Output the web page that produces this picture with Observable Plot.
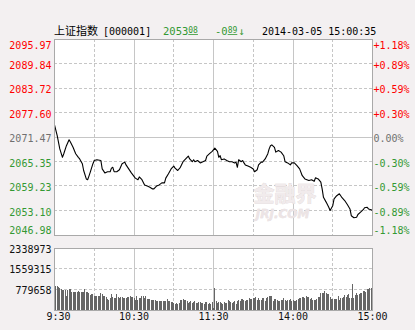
<!DOCTYPE html>
<html><head><meta charset="utf-8">
<script src="https://cdn.jsdelivr.net/npm/d3@7"></script>
<script src="https://cdn.jsdelivr.net/npm/@observablehq/plot@0.6"></script>
<style>
html,body{margin:0;padding:0;background:#f3f0f1;}
#wrap{position:relative;width:415px;height:330px;overflow:hidden;background:#f3f0f1;}
#wrap > svg{position:absolute;left:0;}
</style></head><body><div id="wrap"></div>
<script>
// ---- data ----
const indexName = "上证指数";
const indexCode = "[000001]";
const lastInt = "2053", lastDec = "08";
const chgInt = "-0", chgDec = "89", chgArrow = "↓";
const stamp = "2014-03-05 15:00:35";

const prevClose = 2071.47;
const priceTicks = [2095.97, 2089.84, 2083.72, 2077.60, 2071.47, 2065.35, 2059.23, 2053.10, 2046.98];
const pctLabels = ["+1.18%", "+0.89%", "+0.59%", "+0.30%", "0.00%", "-0.30%", "-0.59%", "-0.89%", "-1.18%"];
const volTicks = [779658, 1559315, 2338973];
const timeTicks = [0, 60, 120, 180, 240];
const timeLabels = ["9:30", "10:30", "11:30", "14:00", "15:00"];

// trading minute since 9:30 (120 = 11:30 / 13:00)
const minutes = [0,2,4,6,7,9,11,12,14,16,18,19,21,22,24,25,26,27,29,30,32,35,36,38,40,42,43,44,45,47,49,51,53,54,56,58,61,63,64,66,68,70,72,74,75,77,79,81,83,84,86,88,90,91,93,95,97,99,101,102,104,105,106,108,110,112,114,115,117,119,121,123,124,125,126,128,130,132,134,136,137,138,139,141,142,143,144,146,148,150,151,153,154,156,157,159,161,162,163,164,166,167,169,171,173,174,176,178,179,181,183,185,187,189,192,194,196,197,199,201,202,203,205,207,208,210,211,213,215,216,217,219,221,223,224,226,228,229,231,233,234,236,237,239,240];
const prices = [2074.5,2071.9,2068.5,2066.4,2067.3,2069.3,2070.8,2070.2,2068.9,2067.3,2066.4,2066.0,2064.8,2063.1,2061.0,2060.8,2061.7,2062.7,2064.8,2065.6,2065.8,2065.6,2063.5,2062.5,2062.8,2062.8,2063.7,2063.9,2062.8,2062.8,2063.3,2064.8,2065.2,2064.5,2063.5,2062.5,2061.2,2060.8,2061.5,2060.8,2059.5,2059.2,2058.9,2058.5,2058.5,2059.2,2059.5,2060.0,2060.0,2061.2,2062.3,2063.5,2064.2,2063.7,2063.1,2063.9,2065.3,2066.0,2066.7,2066.0,2065.3,2065.8,2065.3,2065.6,2065.0,2065.3,2065.6,2066.7,2067.3,2067.9,2068.7,2067.9,2066.4,2066.8,2065.8,2066.0,2065.6,2065.3,2065.3,2065.0,2065.2,2063.9,2065.8,2065.3,2065.6,2065.0,2064.5,2064.2,2063.9,2063.5,2062.8,2063.3,2064.5,2065.2,2065.2,2066.0,2067.3,2068.5,2069.3,2069.5,2068.9,2067.7,2068.1,2067.7,2066.8,2065.3,2065.0,2064.5,2065.0,2065.0,2064.3,2063.5,2061.8,2061.0,2060.6,2060.8,2060.4,2061.3,2061.0,2060.2,2058.5,2056.4,2055.2,2053.9,2053.1,2054.3,2056.0,2056.8,2057.3,2056.8,2056.3,2055.6,2054.6,2053.5,2051.8,2051.3,2051.4,2052.1,2052.7,2053.3,2053.8,2053.9,2053.5,2053.3,2053.08];
// volume per minute, thousands of shares (minute 0..240)
const volumesK = [
2338.973,905,880,843,805,780,742,742,717,503,
742,780,780,654,654,679,654,654,704,679,
654,679,654,767,654,679,604,553,566,566,
528,503,503,503,503,616,591,503,503,465,
402,365,428,566,465,440,440,566,465,428,
465,465,440,440,428,465,465,503,465,465,
428,365,528,340,428,428,528,503,428,528,
402,402,402,365,340,340,340,302,302,302,
302,314,314,314,314,390,314,314,289,289,
264,226,264,189,264,352,377,390,377,352,
314,264,289,314,264,289,314,264,264,289,
289,264,264,226,289,289,226,264,189,289,
63,817,314,264,289,289,264,226,289,264,
264,352,314,289,264,289,314,226,314,352,
314,390,390,352,314,352,352,415,390,390,
440,440,465,377,415,377,377,415,440,314,
440,478,516,516,503,314,390,390,352,314,
314,352,352,415,352,314,352,352,390,314,
352,314,314,352,390,415,440,478,478,440,
503,478,478,390,415,352,352,352,390,453,
478,604,641,641,692,641,566,566,478,390,
390,390,390,390,503,352,440,415,478,541,
478,541,566,415,415,968,440,541,629,541,
591,616,616,692,704,666,767,767,817,817,163];

// ---- styling ----
const RED = "#ff0000", GREEN = "#339933", GRAYTXT = "#707070";
const GRID = "#c6c6c6", BORDER = "#a9a9a9";
const MONO = "DejaVu Sans Mono";
const halfHours = [30, 90, 150, 210], hours = [60, 120, 180];

const wrap = document.getElementById("wrap");

// ---- header ----
const hdr = d3.select(wrap).append("svg").attr("width", 415).attr("height", 40).style("top", "0px");
hdr.append("text").attr("x", 54).attr("y", 35).attr("font-family", "Noto Sans CJK SC").attr("font-size", 11).attr("fill", "#000").text(indexName);
hdr.append("text").attr("x", 103).attr("y", 35).attr("font-family", MONO).attr("font-size", 10).attr("fill", "#000").text(indexCode);
const t1 = hdr.append("text").attr("x", 163).attr("y", 35).attr("font-family", MONO).attr("font-size", 10.5).attr("fill", GREEN);
t1.append("tspan").text(lastInt);
t1.append("tspan").attr("font-size", 8).attr("dy", -2).attr("text-decoration", "underline").text(lastDec);
const t2 = hdr.append("text").attr("x", 215).attr("y", 35).attr("font-family", MONO).attr("font-size", 10.5).attr("fill", GREEN);
t2.append("tspan").text(chgInt);
t2.append("tspan").attr("font-size", 8).attr("dy", -2).attr("text-decoration", "underline").text(chgDec);
t2.append("tspan").attr("dy", 2).attr("dx", 1).text(chgArrow);
hdr.append("text").attr("x", 262).attr("y", 35).attr("font-family", MONO).attr("font-size", 10).attr("fill", "#000").text(stamp);

// ---- price panel ----
const priceData = minutes.map((m, i) => ({m, p: prices[i]}));
const tickRows = priceTicks.map((v, i) => ({
  v, pct: pctLabels[i],
  c: Math.abs(v - prevClose) < 0.005 ? GRAYTXT : (v > prevClose ? RED : GREEN)
}));
const innerRows = tickRows.slice(1, -1);
const topRow = tickRows.slice(0, 1), botRow = tickRows.slice(-1);
const txt = {fontFamily: MONO, fontSize: 10};
const leftLab = (rows, dy) => Plot.text(rows, {...txt, y: "v", text: d => d.v.toFixed(2), fill: "c", frameAnchor: "left", textAnchor: "end", dx: -3, dy});
const rightLab = (rows, dy) => Plot.text(rows, {...txt, y: "v", text: "pct", fill: "c", frameAnchor: "right", textAnchor: "start", dx: 1, dy});

const price = Plot.plot({
  width: 415, height: 206,
  marginTop: 2.5, marginBottom: 7.5, marginLeft: 54, marginRight: 43,
  style: {background: "transparent", overflow: "visible"},
  x: {domain: [0, 240], axis: null},
  y: {domain: [2046.98, 2095.97], axis: null},
  color: {type: "identity"},
  marks: [
    Plot.frame({fill: "white", stroke: null}),
    Plot.ruleY(innerRows.filter(d => d.v !== prevClose), {y: "v", stroke: GRID, strokeDasharray: "3,2", shapeRendering: "crispEdges"}),
    Plot.ruleY([prevClose], {stroke: GRID, shapeRendering: "crispEdges"}),
    Plot.ruleX(halfHours, {stroke: GRID, strokeDasharray: "3,2", shapeRendering: "crispEdges"}),
    Plot.ruleX(hours, {stroke: GRID, shapeRendering: "crispEdges"}),
    Plot.text(["金融界"], {frameAnchor: "bottom-right", dx: -56, dy: -34, fontSize: 21, fontWeight: "bold", fontFamily: "Noto Sans CJK SC", fill: "#f1ebec", stroke: "#ddd3d4", strokeWidth: 0.6}),
    Plot.text(["JRJ.COM"], {frameAnchor: "bottom-right", dx: -63, dy: -17, fontSize: 12, fontWeight: "bold", fontStyle: "italic", fontFamily: "DejaVu Sans", fill: "#ece4e5", stroke: "#ddd3d4", strokeWidth: 0.4}),
    Plot.line(priceData, {x: "m", y: "p", stroke: "#000", strokeWidth: 1.1}),
    Plot.frame({stroke: BORDER, shapeRendering: "crispEdges"}),
    leftLab(innerRows, 2), leftLab(topRow, 6.5), leftLab(botRow, -4.5),
    rightLab(innerRows, 2), rightLab(topRow, 6.5), rightLab(botRow, -4.5)
  ]
});
price.style.top = "36px";
wrap.appendChild(price);

// ---- volume panel ----
const volData = volumesK.map((v, i) => ({m: i, v: v * 1000}));
const vol = Plot.plot({
  width: 415, height: 90,
  marginTop: 7.5, marginBottom: 20.5, marginLeft: 54, marginRight: 43,
  style: {background: "transparent", overflow: "visible"},
  x: {domain: [0, 240], axis: null},
  y: {domain: [0, 2338973], axis: null},
  marks: [
    Plot.frame({fill: "white", stroke: null}),
    Plot.ruleY(volTicks.slice(0, 2), {stroke: GRID, strokeDasharray: "3,2", shapeRendering: "crispEdges"}),
    Plot.ruleX(halfHours, {stroke: GRID, strokeDasharray: "3,2", shapeRendering: "crispEdges"}),
    Plot.ruleX(hours, {stroke: GRID, shapeRendering: "crispEdges"}),
    Plot.ruleX(volData, {x: "m", y1: 0, y2: "v", stroke: "#666666", strokeWidth: 1, shapeRendering: "crispEdges"}),
    Plot.frame({stroke: BORDER, shapeRendering: "crispEdges"}),
    Plot.text(volTicks.slice(0, 2), {...txt, y: d => d, text: d => String(d), frameAnchor: "left", textAnchor: "end", dx: -3, dy: 1, fill: "#111"}),
    Plot.text(volTicks.slice(2), {...txt, y: d => d, text: d => String(d), frameAnchor: "left", textAnchor: "end", dx: -3, dy: 2, fill: "#111"}),
    Plot.text(timeTicks.slice(0, 1), {...txt, x: d => d, text: (d, i) => timeLabels[0], frameAnchor: "bottom", dx: 4, dy: 10, fill: "#111"}),
    Plot.text(timeTicks.slice(1), {...txt, x: d => d, text: (d, i) => timeLabels[i + 1], frameAnchor: "bottom", dy: 10, fill: "#111"})
  ]
});
vol.style.top = "240px";
wrap.appendChild(vol);
</script></body></html>
